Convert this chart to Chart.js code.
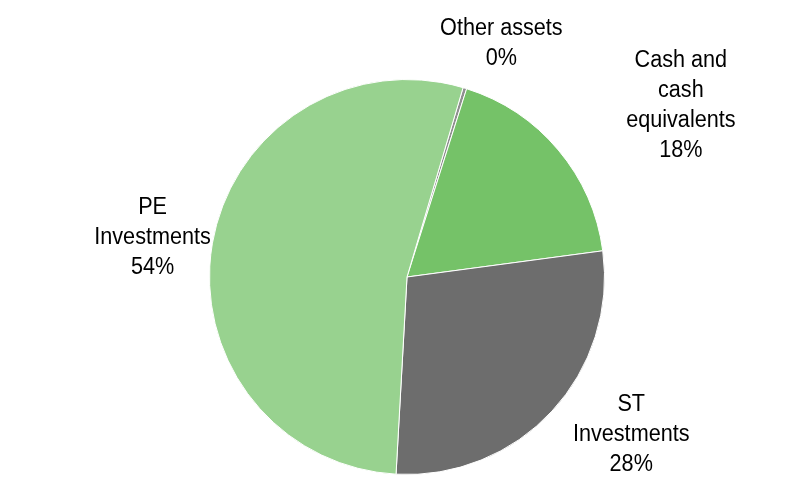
<!DOCTYPE html>
<html>
<head>
<meta charset="utf-8">
<script src="https://cdn.jsdelivr.net/npm/chart.js@4"></script>
<style>
  html, body { margin: 0; padding: 0; background: #fff; }
  #pieChart { display: block; }
</style>
</head>
<body>
<canvas id="pieChart" width="800" height="482"></canvas>
<script>
// Asset split, clockwise from the top
var categories = [['Other assets'], ['Cash and', 'cash', 'equivalents'], ['ST', 'Investments'], ['PE', 'Investments']];
var shares = [0.3, 18, 28, 53.7];
var colors = ['#8f8f8f', '#75c268', '#6d6d6d', '#98d28f'];

// label distance beyond the rim and angle nudge (degrees), per slice
var labelGap = [54, 125.5, 76.5, 60];
var labelTurn = [5, 8, -7.7, -1];

var outsideLabels = {
    id: 'outsideLabels',
    afterDatasetsDraw: function(chart) {
        var ctx = chart.ctx;
        var meta = chart.getDatasetMeta(0);
        var total = shares.reduce(function(a, b) { return a + b; }, 0);
        var squeeze = 0.94; // narrow-looking type
        ctx.save();
        ctx.font = '23px "Liberation Sans", Arial, sans-serif';
        ctx.fillStyle = '#000';
        ctx.textAlign = 'center';
        ctx.textBaseline = 'middle';
        meta.data.forEach(function(arc, i) {
            var mid = (arc.startAngle + arc.endAngle) / 2 + labelTurn[i] * Math.PI / 180;
            var d = arc.outerRadius + labelGap[i];
            var x = arc.x + Math.cos(mid) * d;
            var y = arc.y + Math.sin(mid) * d;
            var lines = categories[i].concat([Math.round(shares[i] / total * 100) + '%']);
            var lh = 30;
            var top = y - (lines.length - 1) * lh / 2;
            lines.forEach(function(t, k) {
                ctx.save();
                ctx.translate(x, top + k * lh);
                ctx.scale(squeeze, 1);
                ctx.fillText(t, 0, 0);
                ctx.restore();
            });
        });
        ctx.restore();
    }
};

var ctx = document.getElementById('pieChart').getContext('2d');

var myPieChart = new Chart(ctx, {
    type: 'pie',
    data: {
        labels: categories.map(function(l) { return l.join(' '); }),
        datasets: [{
            data: shares,
            backgroundColor: colors,
            borderColor: '#ffffff',
            borderWidth: 1
        }]
    },
    options: {
        responsive: false,
        animation: false,
        rotation: 16.5,
        layout: { padding: { top: 79, bottom: 7, left: 14, right: 0 } },
        plugins: {
            legend: { display: false },
            tooltip: { enabled: false }
        }
    },
    plugins: [outsideLabels]
});
</script>
</body>
</html>
